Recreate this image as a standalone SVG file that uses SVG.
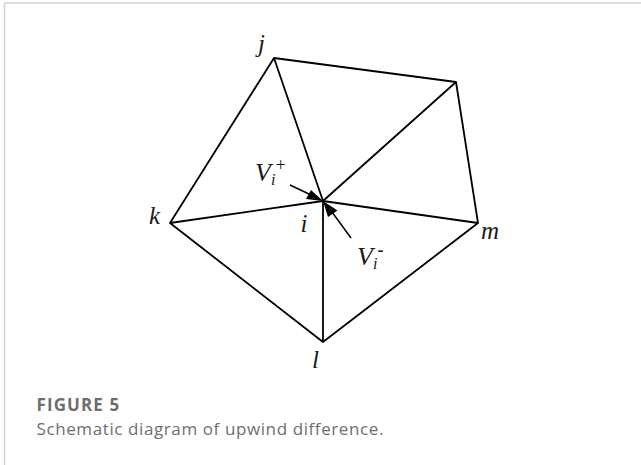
<svg xmlns="http://www.w3.org/2000/svg" width="641" height="465" viewBox="0 0 641 465">
<style>
.e{stroke:#000;stroke-width:1.8;fill:none;stroke-linecap:round}
.a{stroke:#000;stroke-width:1.5;fill:none}
.h{fill:#000;stroke:none}
.t{font-family:"Liberation Serif",serif;font-style:italic;font-size:25px;fill:#1a1a1a}
.v{font-size:26px}
.u{font-size:16px}
.s{font-family:"Liberation Serif",serif;font-size:18px;fill:#1a1a1a}
.f{font-family:"Open Sans",sans-serif;font-size:17px;fill:#6e6e6e}
.b{stroke:#d4d4d4;fill:none}
</style>
<rect width="641" height="465" fill="#fff"/>
<g id="frame"><path class="b" stroke-width="1.5" d="M4.500 465V3H641"/></g>
<g id="connectors">
<path class="e" d="M274 58L456 82M274 58L170 223M274 58L323 201M456 82L323 201M456 82L478 223M170 223L323 201M478 223L323 201M170 223L323 342M478 223L323 342M323 201V342"/>
<path class="a" d="M290 185L310 194.500M351 238L332 212"/>
<path class="h" d="M323 201L311 190L306 199ZM323 201L337.500 210.500L328 217Z"/>
</g>
<g id="node-j"><text class="t" x="258" y="52">j</text></g>
<g id="node-k"><text class="t" x="149" y="224">k</text></g>
<g id="node-i"><text class="t" x="300.500" y="232">i</text></g>
<g id="node-m"><text class="t" x="481" y="239">m</text></g>
<g id="node-l"><text class="t" x="312" y="368">l</text></g>
<g id="label-vplus"><text class="t v" x="255" y="181">V</text><text class="t u" x="271" y="185">i</text><text class="s" x="275.500" y="171">+</text></g>
<g id="label-vminus"><text class="t v" x="357" y="265">V</text><text class="t u" x="373" y="269">i</text><text class="s" x="377.500" y="256" font-weight="700" font-size="20">-</text></g>
<g id="caption">
<text class="f" x="36.500" y="411" font-weight="700" letter-spacing="1.100">FIGURE 5</text>
<text class="f" x="36.500" y="435" letter-spacing=".6">Schematic diagram of upwind difference.</text>
</g>
</svg>
